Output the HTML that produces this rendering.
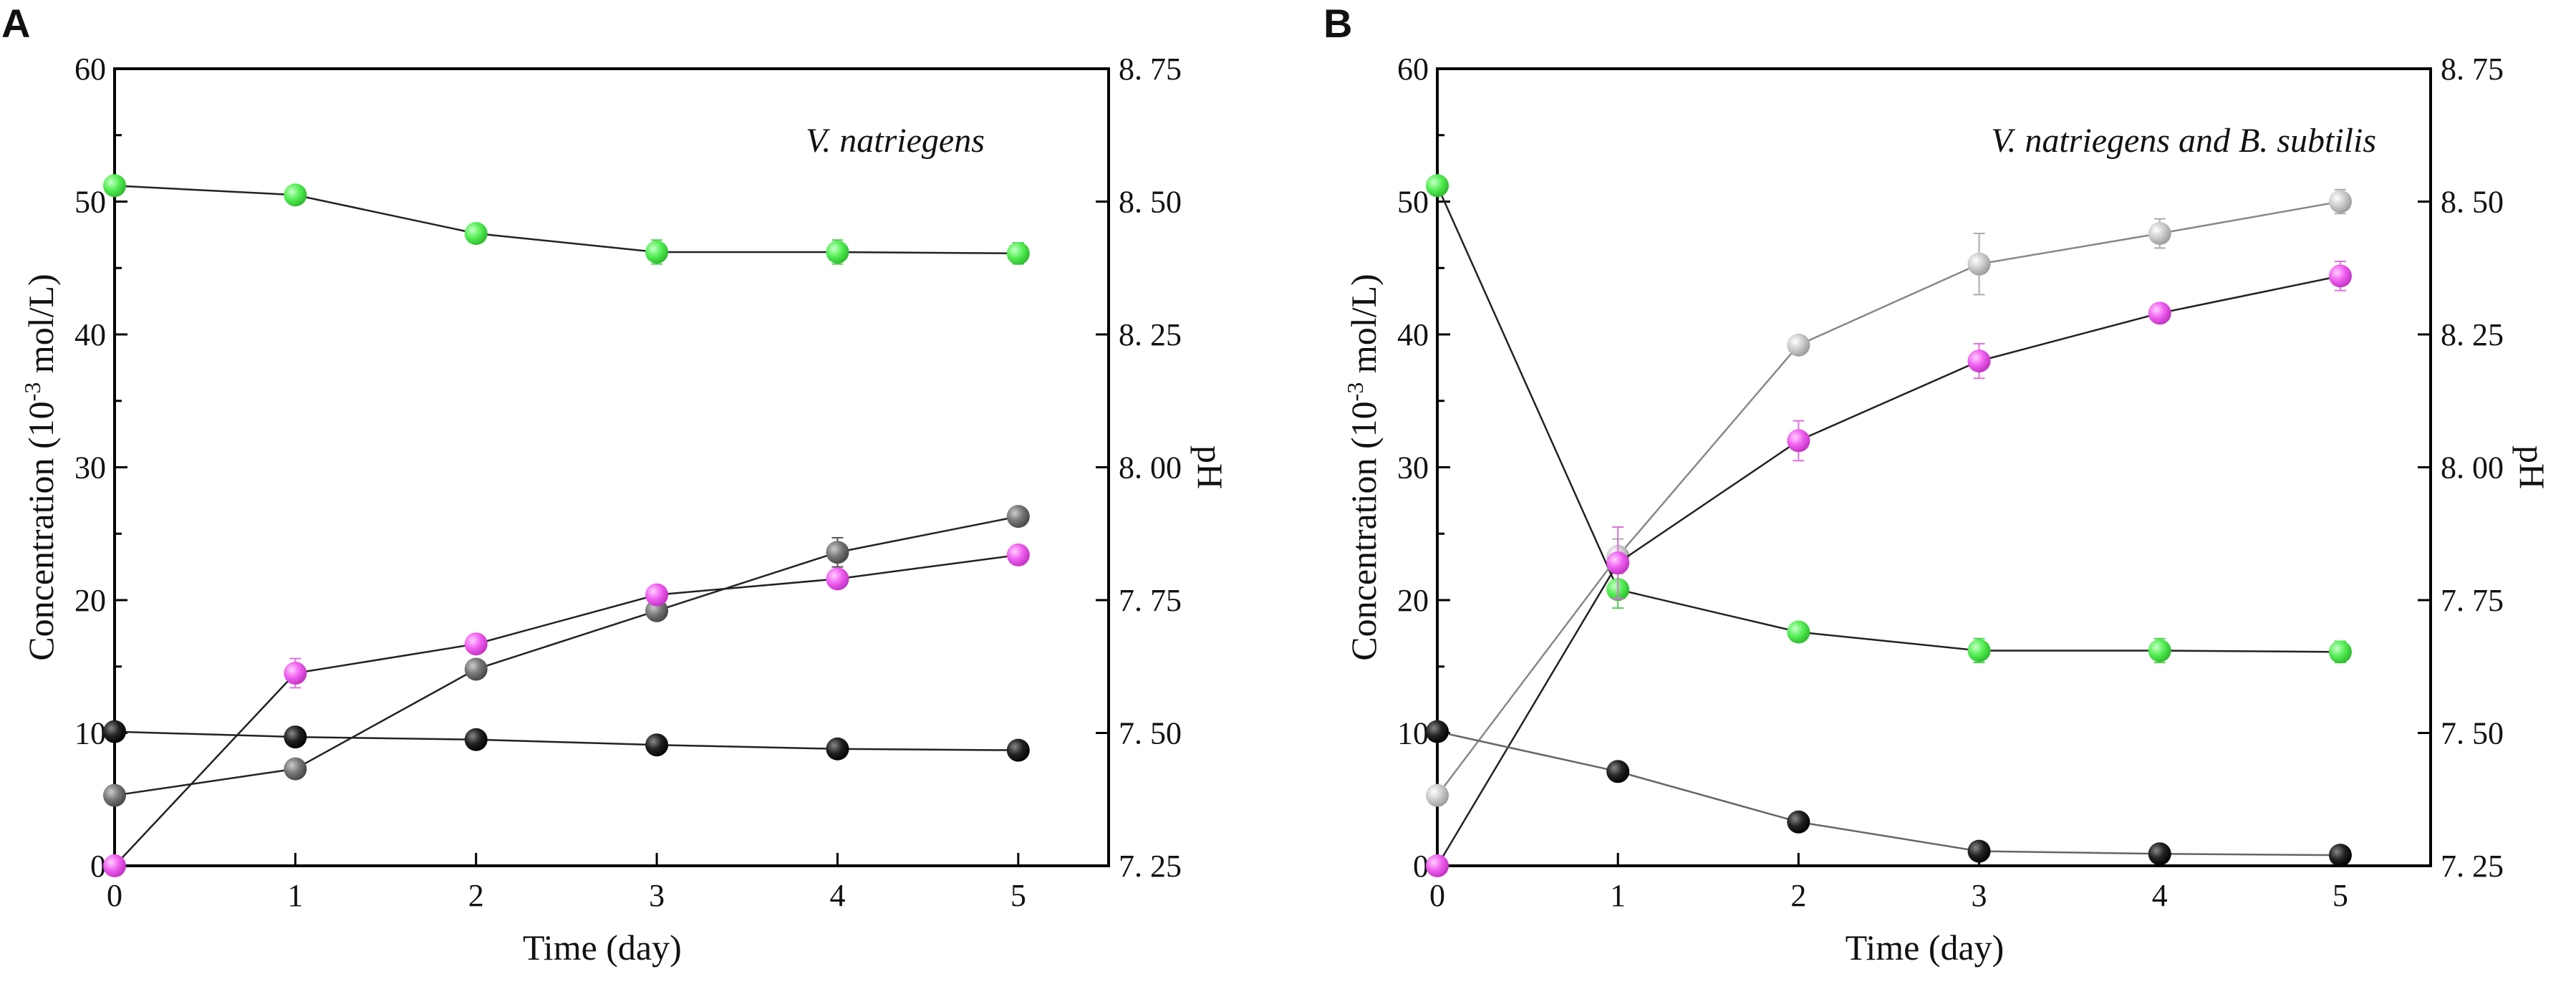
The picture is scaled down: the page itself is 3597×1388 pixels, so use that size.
<!DOCTYPE html>
<html><head><meta charset="utf-8"><style>
html,body{margin:0;padding:0;background:#fff}
svg{display:block}
text{font-family:"Liberation Serif",serif;fill:#111}
</style></head><body>
<svg id="chart" width="3597" height="1388" viewBox="0 0 3597 1388" xmlns="http://www.w3.org/2000/svg">
<defs>
<radialGradient id="gGreen" cx="0.35" cy="0.35" r="0.7"><stop offset="0" stop-color="#c8ffc8"/><stop offset="0.5" stop-color="#55ee55"/><stop offset="1" stop-color="#2bb82b"/></radialGradient>
<radialGradient id="gBlack" cx="0.35" cy="0.35" r="0.7"><stop offset="0" stop-color="#888"/><stop offset="0.5" stop-color="#222"/><stop offset="1" stop-color="#000"/></radialGradient>
<radialGradient id="gDark" cx="0.35" cy="0.35" r="0.7"><stop offset="0" stop-color="#ccc"/><stop offset="0.5" stop-color="#777"/><stop offset="1" stop-color="#444"/></radialGradient>
<radialGradient id="gLight" cx="0.35" cy="0.35" r="0.7"><stop offset="0" stop-color="#fff"/><stop offset="0.5" stop-color="#ccc"/><stop offset="1" stop-color="#999"/></radialGradient>
<radialGradient id="gMag" cx="0.35" cy="0.35" r="0.7"><stop offset="0" stop-color="#ffd0ff"/><stop offset="0.5" stop-color="#f060f0"/><stop offset="1" stop-color="#c030c0"/></radialGradient>
</defs>
</svg>
<script>
const days = [0,1,2,3,4,5];
const yTicks = [0,10,20,30,40,50,60];
const phTicks = ["7.25","7.50","7.75","8.00","8.25","8.50","8.75"];
const xTicks = [0,1,2,3,4,5];
// Panel A
const aGreen = [51.2,50.5,47.6,46.2,46.2,46.1];
const aGreenErr = [0.3,0.4,0.5,0.9,0.9,0.8];
const aBlack = [10.1,9.7,9.5,9.1,8.8,8.7];
const aBlackErr = [0.2,0.2,0.2,0.3,0.3,0.3];
const aGray = [5.3,7.3,14.8,19.2,23.6,26.3];
const aGrayErr = [0.2,0.4,0.4,0.7,1.1,0.4];
const aMag = [0,14.5,16.7,20.4,21.6,23.4];
const aMagErr = [0,1.1,0.5,0.6,0.6,0.4];
// Panel B
const bGreen = [51.2,20.8,17.6,16.2,16.2,16.1];
const bGreenErr = [0.3,1.4,0.5,0.9,0.9,0.8];
const bLight = [5.3,23.3,39.2,45.3,47.6,50.0];
const bLightErr = [0.2,1.3,0.6,2.3,1.1,0.9];
const bMag = [0,22.8,32.0,38.0,41.6,44.4];
const bMagErr = [0,2.7,1.5,1.3,0.5,1.1];
const bBlack = [10.1,7.1,3.3,1.1,0.9,0.8];
const bBlackErr = [0.2,0.3,0.3,0.3,0.3,0.3];

const svg = document.getElementById('chart');
const NS = 'http://www.w3.org/2000/svg';
function mk(tag, attrs, parent){
  const e = document.createElementNS(NS, tag);
  for (const k in attrs) e.setAttribute(k, attrs[k]);
  (parent||svg).appendChild(e);
  return e;
}
const plotTop = 96, plotBottom = 1209;
function yS(v){ return plotBottom - (v/60)*(plotBottom-plotTop); }

function panel(id, left, right, letter, letterX, title, titleX, titleAnchor, series){
  const g = mk('g', {});
  
  
  const xS = d => left + d*(right-left)/5.5;
  const lt = mk('text', {x: letterX, y: 52, style: 'font-family:"Liberation Sans",sans-serif;font-weight:bold;font-size:56px'}, g);
  lt.textContent = letter;
  
  
  const frame = mk('rect', {x: left, y: plotTop, width: right-left, height: plotBottom-plotTop, fill: 'none', stroke: '#000', 'stroke-width': 4}, g);
  
  
  yTicks.forEach(v => {
    const y = yS(v);
    mk('line', {x1: left, x2: left+18, y1: y, y2: y, stroke: '#000', 'stroke-width': 3}, g);
    const t = mk('text', {x: left-12, y: y+15, 'text-anchor': 'end', 'font-size': 44}, g);
    t.textContent = v;
    
    
  });
  for (let v = 5; v < 60; v += 10) {
    mk('line', {x1: left, x2: left+10, y1: yS(v), y2: yS(v), stroke: '#000', 'stroke-width': 3}, g);
  }
  phTicks.forEach((p, i) => {
    const y = yS(i*10);
    mk('line', {x1: right-18, x2: right, y1: y, y2: y, stroke: '#000', 'stroke-width': 3}, g);
    const t = mk('text', {x: right+14, y: y+15, 'font-size': 44}, g);
    t.textContent = p.replace('.', '. ');
    
    
  });
  xTicks.forEach(d => {
    const x = xS(d);
    mk('line', {x1: x, x2: x, y1: plotBottom, y2: plotBottom-18, stroke: '#000', 'stroke-width': 3}, g);
    const t = mk('text', {x: x, y: plotBottom+56, 'text-anchor': 'middle', 'font-size': 44}, g);
    t.textContent = d;
    
    
  });
  const xt = mk('text', {x: (left+xS(5))/2 + 50, y: 1340, 'text-anchor': 'middle', 'font-size': 50}, g);
  xt.textContent = 'Time (day)';
  
  
  const yt = mk('text', {transform: `translate(${left-86},${(plotTop+plotBottom)/2}) rotate(-90)`, 'text-anchor': 'middle', 'font-size': 50}, g);
  yt.innerHTML = 'Concentration (10<tspan dy="-18" font-size="32">-3</tspan><tspan dy="18"> mol/L)</tspan>';
  
  
  const pt = mk('text', {transform: `translate(${right+125},${(plotTop+plotBottom)/2}) rotate(90)`, 'text-anchor': 'middle', 'font-size': 50}, g);
  pt.textContent = 'pH';
  
  
  const tt = mk('text', {x: titleX, y: 212, 'text-anchor': titleAnchor, 'font-style': 'italic', 'font-size': 48}, g);
  tt.textContent = title;
  
  
  series.forEach(s => {
    const sg = mk('g', {}, g);
    
    
    const pts = s.v.map((v, i) => xS(days[i]) + ',' + yS(v)).join(' ');
    mk('polyline', {points: pts, fill: 'none', stroke: s.line, 'stroke-width': 2.5}, sg);
    s.v.forEach((v, i) => {
      const x = xS(days[i]), e = s.e[i];
      if (e > 0) {
        mk('line', {x1: x, x2: x, y1: yS(v+e), y2: yS(v-e), stroke: s.err, 'stroke-width': 2}, sg);
        mk('line', {x1: x-8, x2: x+8, y1: yS(v+e), y2: yS(v+e), stroke: s.err, 'stroke-width': 2}, sg);
        mk('line', {x1: x-8, x2: x+8, y1: yS(v-e), y2: yS(v-e), stroke: s.err, 'stroke-width': 2}, sg);
      }
      const c = mk('circle', {cx: x, cy: yS(v), r: 16, fill: s.fill}, sg);
      
      
    });
  });
}
panel('a', 160, 1548, 'A', 2, 'V. natriegens', 1250, 'middle', [
  {name:'green', v:aGreen, e:aGreenErr, fill:'url(#gGreen)', line:'#222', err:'#55cc55'},
  {name:'black', v:aBlack, e:aBlackErr, fill:'url(#gBlack)', line:'#222', err:'#333'},
  {name:'gray', v:aGray, e:aGrayErr, fill:'url(#gDark)', line:'#222', err:'#555'},
  {name:'magenta', v:aMag, e:aMagErr, fill:'url(#gMag)', line:'#222', err:'#e070e0'}
]);
panel('b', 2007, 3394, 'B', 1848, 'V. natriegens and B. subtilis', 3318, 'end', [
  {name:'green', v:bGreen, e:bGreenErr, fill:'url(#gGreen)', line:'#222', err:'#55cc55'},
  {name:'lightgray', v:bLight, e:bLightErr, fill:'url(#gLight)', line:'#888', err:'#aaa'},
  {name:'magenta', v:bMag, e:bMagErr, fill:'url(#gMag)', line:'#222', err:'#e070e0'},
  {name:'black', v:bBlack, e:bBlackErr, fill:'url(#gBlack)', line:'#666', err:'#333'}
]);
</script>
</body></html>
